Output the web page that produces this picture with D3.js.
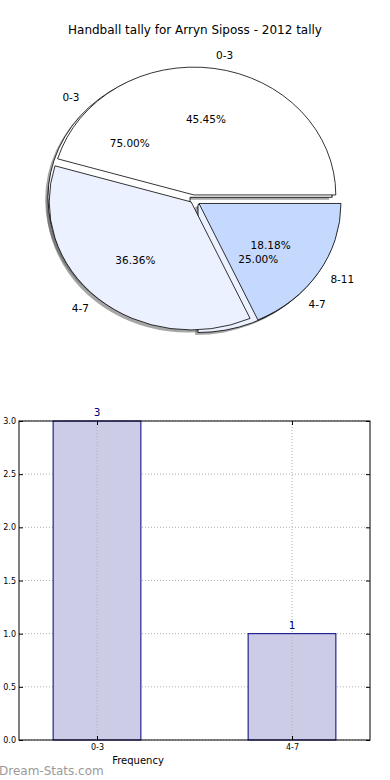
<!DOCTYPE html>
<html>
<head>
<meta charset="utf-8">
<script src="https://cdn.jsdelivr.net/npm/d3@7"></script>
<style>
    body { margin: 0; background: #fff; }
    svg { display: block; font-family: "DejaVu Sans", sans-serif; }
</style>
</head>
<body>
<div id="chart-area"></div>
<script>

// Chart data
let title = "Handball tally for Arryn Siposs - 2012 tally";
let outerCategories = ["0-3", "4-7", "8-11"];
let outerValues = [5, 4, 2];
let innerCategories = ["0-3", "4-7"];
let innerValues = [3, 1];
let barCategories = ["0-3", "4-7"];
let barValues = [3, 1];
let yTicks = [0, 0.5, 1, 1.5, 2, 2.5, 3];

// SVG drawing area
let width = 390, height = 780;

let svg = d3.select("#chart-area").append("svg")
    .attr("width", width)
    .attr("height", height);

svg.append("text")
    .attr("x", 195)
    .attr("y", 34)
    .attr("text-anchor", "middle")
    .style("font-size", "12px")
    .text(title);


// Pie settings (elliptical, like the original)
let cx = 193, cy = 200, rx = 142, ry = 128;
let sliceColors = ["#ffffff", "#ebf1fe", "#c5d9fe"];

let pie = d3.pie()
    .sort(null)
    .startAngle(Math.PI / 2)
    .endAngle(Math.PI / 2 - 2 * Math.PI);

let arc = d3.arc()
    .innerRadius(0)
    .outerRadius(1);

function layout(values, cats, explode) {
    let total = d3.sum(values);
    return pie(values).map(function (d, i) {
        let mid = (d.startAngle + d.endAngle) / 2;
        d.ux = Math.sin(mid);
        d.uy = -Math.cos(mid);
        d.ox = explode[i] * rx * d.ux;
        d.oy = explode[i] * ry * d.uy;
        d.color = sliceColors[i];
        d.label = cats[i];
        d.pct = (100 * d.value / total).toFixed(2) + "%";
        return d;
    });
}

let innerSlices = layout(innerValues, innerCategories, [0.03, 0.05]);
let outerSlices = layout(outerValues, outerCategories, [0.04, 0.02, 0.05]);

let pieGroup = svg.append("g")
    .attr("transform", "translate(" + cx + "," + cy + ")");

// shadows go under every wedge
innerSlices.concat(outerSlices).forEach(function (d) {
    pieGroup.append("path")
        .attr("d", arc(d))
        .attr("transform", "translate(" + (d.ox - 0.02 * rx) + "," + (d.oy + 0.02 * ry) + ") scale(" + rx + "," + ry + ")")
        .attr("fill", "#4d4d4d")
        .attr("fill-opacity", 0.5);
});

innerSlices.concat(outerSlices).forEach(function (d) {
    pieGroup.append("path")
        .attr("d", arc(d))
        .attr("transform", "translate(" + d.ox + "," + d.oy + ") scale(" + rx + "," + ry + ")")
        .attr("fill", d.color)
        .attr("stroke", "#000")
        .attr("stroke-width", 0.8)
        .attr("vector-effect", "non-scaling-stroke");
});

innerSlices.concat(outerSlices).forEach(function (d) {
    pieGroup.append("text")
        .attr("x", d.ox + 1.1 * rx * d.ux)
        .attr("y", d.oy + 1.1 * ry * d.uy)
        .attr("dy", "0.35em")
        .attr("text-anchor", d.ux > 0 ? "start" : "end")
        .style("font-size", "10.5px")
        .text(d.label);

    pieGroup.append("text")
        .attr("x", d.ox + 0.6 * rx * d.ux)
        .attr("y", d.oy + 0.6 * ry * d.uy)
        .attr("dy", "0.35em")
        .attr("text-anchor", "middle")
        .style("font-size", "10.5px")
        .text(d.pct);
});


// Bar chart
let plotLeft = 19, plotRight = 370, plotTop = 421, plotBottom = 740;

let x = d3.scaleLinear()
    .domain([-0.4, 1.4])
    .range([plotLeft, plotRight]);

let y = d3.scaleLinear()
    .domain([0, 3])
    .range([plotBottom, plotTop]);

let barWidth = 0.45;

// horizontal grid behind bars
svg.append("g").selectAll("line")
    .data(yTicks)
    .enter().append("line")
    .attr("x1", plotLeft).attr("x2", plotRight)
    .attr("y1", d => y(d)).attr("y2", d => y(d))
    .attr("stroke", "#b0b0b0")
    .attr("stroke-dasharray", "1,2");

svg.append("g").selectAll("rect")
    .data(barValues)
    .enter().append("rect")
    .attr("x", (d, i) => x(i - barWidth / 2))
    .attr("y", d => y(d))
    .attr("width", (d, i) => x(i + barWidth / 2) - x(i - barWidth / 2))
    .attr("height", d => y(0) - y(d))
    .attr("fill", "#ccccE6")
    .attr("stroke", "#000080")
    .attr("stroke-width", 1);

// vertical grid on top
svg.append("g").selectAll("line")
    .data(barCategories)
    .enter().append("line")
    .attr("x1", (d, i) => x(i)).attr("x2", (d, i) => x(i))
    .attr("y1", plotTop).attr("y2", plotBottom)
    .attr("stroke", "#b0b0b0")
    .attr("stroke-dasharray", "1,2");

// Axes
let yAxis = d3.axisLeft(y).tickValues(yTicks).tickFormat(d3.format(".1f")).tickSize(-4).tickPadding(3);
let yAxisRight = d3.axisRight(y).tickValues(yTicks).tickFormat("").tickSize(-4);
let xAxis = d3.axisBottom(x).tickValues([0, 1]).tickFormat(i => barCategories[i]).tickSize(-4).tickPadding(4);
let xAxisTop = d3.axisTop(x).tickValues([0, 1]).tickFormat("").tickSize(-4);

let axisGroups = [
    svg.append("g").attr("transform", "translate(" + plotLeft + ",0)").call(yAxis),
    svg.append("g").attr("transform", "translate(" + plotRight + ",0)").call(yAxisRight),
    svg.append("g").attr("transform", "translate(0," + plotBottom + ")").call(xAxis),
    svg.append("g").attr("transform", "translate(0," + plotTop + ")").call(xAxisTop)
];
axisGroups.forEach(function (g) {
    g.select(".domain").remove();
    g.selectAll("text").style("font-size", "8px").style("font-family", "DejaVu Sans").attr("fill", "#000");
    g.selectAll("line").attr("stroke", "#000");
});

svg.append("rect")
    .attr("x", plotLeft).attr("y", plotTop)
    .attr("width", plotRight - plotLeft).attr("height", plotBottom - plotTop)
    .attr("fill", "none")
    .attr("stroke", "#000")
    .attr("stroke-width", 1);

// value labels
svg.append("g").selectAll("text")
    .data(barValues)
    .enter().append("text")
    .attr("x", (d, i) => x(i))
    .attr("y", d => y(d) - 5)
    .attr("text-anchor", "middle")
    .attr("fill", "#000080")
    .style("font-size", "10.5px")
    .text(d => d);

svg.append("text")
    .attr("x", 138)
    .attr("y", 764)
    .attr("text-anchor", "middle")
    .style("font-size", "10px")
    .text("Frequency");

svg.append("text")
    .attr("x", -1)
    .attr("y", 775)
    .attr("fill", "#9a9a9a")
    .style("font-size", "12px")
    .text("Dream-Stats.com");

</script>
</body>
</html>
